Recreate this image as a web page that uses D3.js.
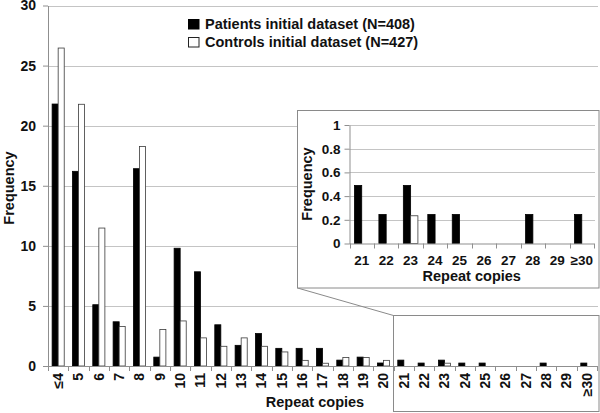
<!DOCTYPE html>
<html>
<head>
<meta charset="utf-8">
<script src="https://cdn.jsdelivr.net/npm/d3@7"></script>
<style>
  body { margin: 0; background: #fff; }
  svg { display: block; font-family: "Liberation Sans", Arial, sans-serif; font-weight: bold; }
</style>
</head>
<body>
<div id="chart"></div>
<script>
const categories = ['≤4', '5', '6', '7', '8', '9', '10', '11', '12', '13', '14', '15', '16', '17', '18', '19', '20',
  '21', '22', '23', '24', '25', '26', '27', '28', '29', '≥30'];
const patients = [21.8, 16.2, 5.1, 3.68, 16.42, 0.74, 9.8, 7.84, 3.43, 1.72, 2.7, 1.47, 1.47, 1.47, 0.49, 0.74, 0.25,
  0.49, 0.245, 0.49, 0.245, 0.245, 0, 0, 0.245, 0, 0.245];
const controls = [26.46, 21.78, 11.48, 3.28, 18.27, 3.04, 3.75, 2.34, 1.64, 2.34, 1.64, 1.17, 0.47, 0.23, 0.7, 0.7, 0.47,
  0, 0, 0.234, 0, 0, 0, 0, 0, 0, 0];
const mainTicks = [0, 5, 10, 15, 20, 25, 30];
const insetTicks = [0, 0.2, 0.4, 0.6, 0.8, 1];
const insetFrom = 17;
const seriesNames = ['Patients initial dataset (N=408)', 'Controls initial dataset (N=427)'];

const W = 600, H = 413;
const main = { left: 48, right: 597, top: 5.5, bottom: 366 };
const inset = { x0: 297.5, y0: 110.5, x1: 599, y1: 288, left: 349.5, right: 594, top: 125, bottom: 243.5 };
const zoomBox = { x0: 393.5, y0: 315.5, x1: 599, y1: 411.5 };

const gridColor = '#c4c4c4';
const axisColor = '#8f8f8f';
const frameColor = '#8a8a8a';

const svg = d3.select('#chart').append('svg').attr('width', W).attr('height', H);

const rows = categories.map((c, i) => ({ cat: c, values: [patients[i], controls[i]] }));

function drawPanel(g, data, xRange, yScale, ticks, fmt, fontSize) {
  const x = d3.scaleBand().domain(data.map(d => d.cat)).range(xRange).padding(0);
  const sub = d3.scaleBand().domain([0, 1]).range([0, x.bandwidth()]).paddingInner(0).paddingOuter(0.68);
  const yBottom = yScale.range()[0];

  // grid
  g.selectAll('line.grid')
    .data(ticks.filter(t => t > 0))
    .join('line')
    .attr('class', 'grid')
    .attr('x1', xRange[0]).attr('x2', xRange[1] + 1)
    .attr('y1', d => Math.round(yScale(d)) + 0.5).attr('y2', d => Math.round(yScale(d)) + 0.5)
    .attr('stroke', gridColor);

  // y axis
  const yAxis = g.append('g')
    .attr('transform', `translate(${xRange[0]},0)`)
    .call(d3.axisLeft(yScale).tickValues(ticks).tickFormat(fmt).tickSize(5).tickPadding(fontSize > 13.5 ? 7 : 4).tickSizeOuter(0));
  yAxis.select('.domain').attr('stroke', axisColor);
  yAxis.selectAll('line').attr('stroke', axisColor);
  yAxis.selectAll('text').attr('fill', '#111').style('font-size', fontSize + 'px');

  // bars
  const groups = g.selectAll('g.cat')
    .data(data)
    .join('g')
    .attr('class', 'cat')
    .attr('transform', d => `translate(${x(d.cat)},0)`);
  groups.selectAll('rect')
    .data(d => d.values.map((v, i) => ({ v, i })))
    .join('rect')
    .attr('x', d => sub(d.i))
    .attr('width', sub.bandwidth())
    .attr('y', d => yScale(d.v))
    .attr('height', d => yBottom - yScale(d.v))
    .attr('fill', d => d.i === 0 ? '#000' : '#fff')
    .attr('stroke', d => d.v > 0 ? (d.i === 0 ? '#000' : '#3a3a3a') : 'none')
    .attr('stroke-width', 0.8);

  // x axis line + boundary ticks
  g.append('line')
    .attr('x1', xRange[0]).attr('x2', xRange[1])
    .attr('y1', yBottom + 0.5).attr('y2', yBottom + 0.5)
    .attr('stroke', axisColor);
  g.selectAll('line.xtick')
    .data(data.map(d => x(d.cat)).concat([xRange[1]]))
    .join('line')
    .attr('class', 'xtick')
    .attr('x1', d => Math.round(d) + 0.5).attr('x2', d => Math.round(d) + 0.5)
    .attr('y1', yBottom).attr('y2', yBottom + 5)
    .attr('stroke', axisColor);

  return x;
}

// ---- main chart
const yMain = d3.scaleLinear().domain([0, 30]).range([main.bottom, main.top]);
const mainG = svg.append('g');
const xMain = drawPanel(mainG, rows, [main.left, main.right], yMain, mainTicks, d3.format('d'), 14);

mainG.append('g')
  .attr('transform', `translate(0,${main.bottom})`)
  .call(d3.axisBottom(xMain).tickSize(0).tickPadding(0))
  .call(a => a.select('.domain').remove())
  .selectAll('text')
  .attr('transform', 'rotate(-90)')
  .attr('x', -7).attr('y', 0).attr('dy', '0.35em')
  .attr('text-anchor', 'end')
  .attr('fill', '#111')
  .style('font-size', '14px');

mainG.append('text')
  .attr('transform', 'translate(14,188) rotate(-90)')
  .attr('text-anchor', 'middle')
  .style('font-size', '14.5px')
  .attr('fill', '#111')
  .text('Frequency');

mainG.append('text')
  .attr('x', 315).attr('y', 407)
  .attr('text-anchor', 'middle')
  .style('font-size', '14.5px')
  .attr('fill', '#111')
  .text('Repeat copies');

// legend
const legend = svg.append('g');
seriesNames.forEach((name, i) => {
  const yy = 19 + i * 18;
  legend.append('rect')
    .attr('x', 188.5).attr('y', yy + 0.5).attr('width', 10.5).attr('height', 9.5)
    .attr('fill', i === 0 ? '#000' : '#fff')
    .attr('stroke', i === 0 ? '#000' : '#222').attr('stroke-width', 1);
  legend.append('text')
    .attr('x', 205).attr('y', yy + 10)
    .style('font-size', '14.5px')
    .attr('fill', '#111')
    .text(name);
});

// ---- zoom frame + connectors
svg.append('rect')
  .attr('x', zoomBox.x0).attr('y', zoomBox.y0)
  .attr('width', zoomBox.x1 - zoomBox.x0).attr('height', zoomBox.y1 - zoomBox.y0)
  .attr('fill', 'none').attr('stroke', frameColor);
svg.append('line')
  .attr('x1', inset.x0).attr('y1', inset.y1)
  .attr('x2', zoomBox.x0).attr('y2', zoomBox.y0)
  .attr('stroke', frameColor);

// ---- inset
const insetG = svg.append('g');
insetG.append('rect')
  .attr('x', inset.x0).attr('y', inset.y0)
  .attr('width', inset.x1 - inset.x0).attr('height', inset.y1 - inset.y0)
  .attr('fill', '#fff').attr('stroke', frameColor);

const yInset = d3.scaleLinear().domain([0, 1]).range([inset.bottom, inset.top]);
const xInset = drawPanel(insetG, rows.slice(insetFrom), [inset.left, inset.right], yInset, insetTicks, d => d === 0 || d === 1 ? d3.format('d')(d) : d3.format('.1f')(d), 13.5);

insetG.append('g')
  .attr('transform', `translate(0,${inset.bottom})`)
  .call(d3.axisBottom(xInset).tickSize(0).tickPadding(12))
  .call(a => a.select('.domain').remove())
  .selectAll('text')
  .attr('fill', '#111')
  .style('font-size', '13.5px');

insetG.append('text')
  .attr('transform', 'translate(312,184) rotate(-90)')
  .attr('text-anchor', 'middle')
  .style('font-size', '14.5px')
  .attr('fill', '#111')
  .text('Frequency');

insetG.append('text')
  .attr('x', (inset.left + inset.right) / 2).attr('y', 281)
  .attr('text-anchor', 'middle')
  .style('font-size', '14.5px')
  .attr('fill', '#111')
  .text('Repeat copies');
</script>
</body>
</html>
